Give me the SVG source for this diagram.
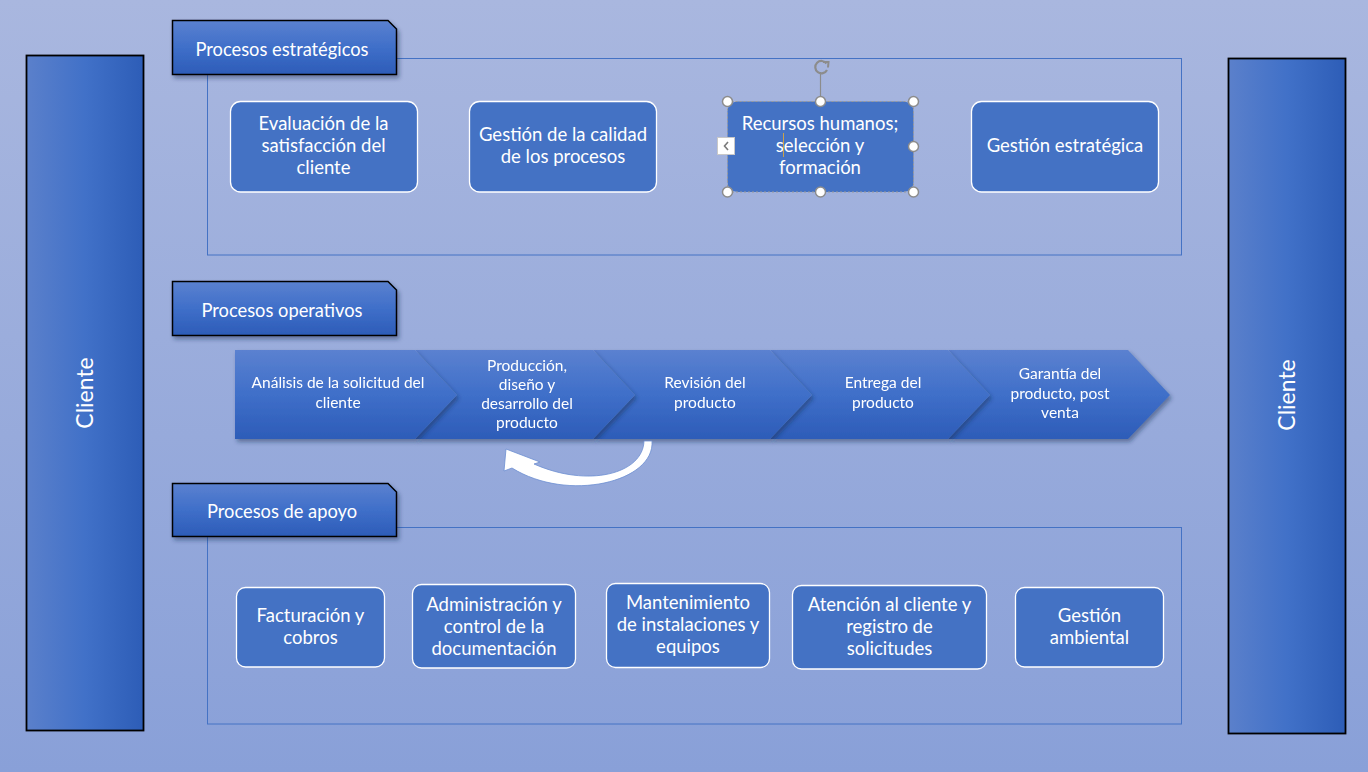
<svg xmlns="http://www.w3.org/2000/svg" width="1368" height="772" viewBox="0 0 1368 772">
<defs>
<linearGradient id="bg" x1="0" y1="0" x2="0" y2="1"><stop offset="0" stop-color="#a9b7df"/><stop offset="1" stop-color="#89a0d8"/></linearGradient>
<linearGradient id="vgrad" x1="0" y1="0" x2="0" y2="1"><stop offset="0" stop-color="#5b81d0"/><stop offset="0.5" stop-color="#3f6fc9"/><stop offset="1" stop-color="#2d5cb8"/></linearGradient>
<linearGradient id="hgrad" x1="0" y1="0" x2="1" y2="0"><stop offset="0" stop-color="#5b80cb"/><stop offset="0.5" stop-color="#4171c8"/><stop offset="1" stop-color="#2d5db7"/></linearGradient>
<filter id="sh" x="-10%" y="-20%" width="130%" height="150%"><feDropShadow dx="2" dy="3" stdDeviation="2" flood-color="#1a2a50" flood-opacity="0.45"/></filter>
</defs>
<style>
.t{font-family:Lato,"Liberation Sans",sans-serif;fill:#ffffff;text-anchor:middle}
.n{font-size:18.5px}
.c{font-size:15.5px}
.tab{font-size:18.3px}
.node{fill:#4472c4;stroke:#ffffff;stroke-width:1.3}
.frame{fill:none;stroke:#4472c4;stroke-width:1}
.tabs{fill:url(#vgrad);stroke:#000;stroke-width:1.5}
.bar{fill:url(#hgrad);stroke:#000;stroke-width:1.8}
.chev{fill:url(#vgrad)}
.hdl{fill:#ffffff;stroke:#8c8c8c;stroke-width:1.5}
</style>
<rect x="0" y="0" width="1368" height="772" fill="url(#bg)"/>

<g id="frames">
<rect class="frame" x="207.5" y="58.5" width="974" height="196.5"/>
<rect class="frame" x="207.5" y="527.5" width="974" height="196.5"/>
</g>

<g id="cliente-left">
<rect class="bar" x="26.5" y="55.5" width="117" height="675"/>
<text class="t" font-size="23" transform="translate(93,393) rotate(-90)">Cliente</text>
</g>
<g id="cliente-right">
<rect class="bar" x="1228.5" y="58.5" width="117" height="675"/>
<text class="t" font-size="23" transform="translate(1295,395) rotate(-90)">Cliente</text>
</g>

<g id="tab-estrategicos">
<path class="tabs" filter="url(#sh)" d="M172.5,20.5 H388 L396.5,29 V74.5 H172.5 Z"/>
<text class="t tab" x="282" y="56">Procesos estratégicos</text>
</g>
<g id="tab-operativos">
<path class="tabs" filter="url(#sh)" d="M172.5,281.5 H388 L396.5,290 V335.5 H172.5 Z"/>
<text class="t tab" x="282" y="317">Procesos operativos</text>
</g>
<g id="tab-apoyo">
<path class="tabs" filter="url(#sh)" d="M172.5,483.5 H388 L396.5,492 V536.5 H172.5 Z"/>
<text class="t tab" x="282" y="518">Procesos de apoyo</text>
</g>

<g id="n-evaluacion">
<rect class="node" x="230.5" y="101.5" width="187" height="90.5" rx="10"/>
<text class="t n" x="323.5" y="130">Evaluación de la</text>
<text class="t n" x="323.5" y="152">satisfacción del</text>
<text class="t n" x="323.5" y="174">cliente</text>
</g>
<g id="n-calidad">
<rect class="node" x="469.5" y="101.5" width="187" height="90.5" rx="10"/>
<text class="t n" x="563" y="141">Gestión de la calidad</text>
<text class="t n" x="563" y="163">de los procesos</text>
</g>
<g id="n-rrhh">
<rect x="727.5" y="101.5" width="186" height="90.5" rx="10" fill="#4472c4"/>
<rect x="727.5" y="101.5" width="186" height="90.5" fill="none" stroke="#9a9a9a" stroke-width="1" stroke-dasharray="2,2"/>
<text class="t n" x="820" y="130">Recursos humanos;</text>
<text class="t n" x="820" y="152">selección y</text>
<text class="t n" x="820" y="174">formación</text>
<line x1="783.5" y1="133" x2="783.5" y2="157" stroke="#c9a24a" stroke-width="1"/>
<line x1="820.5" y1="72" x2="820.5" y2="101" stroke="#8c8c8c" stroke-width="1.2"/>
<path d="M826.5,63.5 A6.2,6.2 0 1 0 827,70" fill="none" stroke="#8c8c8c" stroke-width="2.2"/>
<path d="M823,62 L828.5,62 L828,67.5" fill="none" stroke="#8c8c8c" stroke-width="2"/>
<circle class="hdl" cx="727.5" cy="101.5" r="5"/>
<circle class="hdl" cx="820.5" cy="101.5" r="5"/>
<circle class="hdl" cx="913.5" cy="101.5" r="5"/>
<circle class="hdl" cx="913.5" cy="146.5" r="5"/>
<circle class="hdl" cx="913.5" cy="192" r="5"/>
<circle class="hdl" cx="820.5" cy="192" r="5"/>
<circle class="hdl" cx="727.5" cy="192" r="5"/>
<rect x="717.5" y="137.5" width="17" height="17" fill="#ffffff" stroke="#c8c8c8" stroke-width="1"/>
<path d="M728,142 L724.5,146 L728,150" fill="none" stroke="#7a7a7a" stroke-width="1.6"/>
</g>
<g id="n-estrategica">
<rect class="node" x="971.5" y="101.5" width="187" height="90.5" rx="10"/>
<text class="t n" x="1065" y="152">Gestión estratégica</text>
</g>

<g id="chevrons">
<g id="c5" filter="url(#sh)">
<path class="chev" d="M948,350 H1128 L1170,395 L1128,439 H948 L990,395 Z"/>
<text class="t c" x="1060" y="379">Garantía del</text>
<text class="t c" x="1060" y="399">producto, post</text>
<text class="t c" x="1060" y="418">venta</text>
</g>
<g id="c4" filter="url(#sh)">
<path class="chev" d="M770,350 H948 L990,395 L948,439 H770 L812,395 Z"/>
<text class="t c" x="883" y="388">Entrega del</text>
<text class="t c" x="883" y="408">producto</text>
</g>
<g id="c3" filter="url(#sh)">
<path class="chev" d="M593,350 H770 L812,395 L770,439 H593 L635,395 Z"/>
<text class="t c" x="705" y="388">Revisión del</text>
<text class="t c" x="705" y="408">producto</text>
</g>
<g id="c2" filter="url(#sh)">
<path class="chev" d="M415,350 H593 L635,395 L593,439 H415 L457,395 Z"/>
<text class="t c" x="527" y="371">Producción,</text>
<text class="t c" x="527" y="390">diseño y</text>
<text class="t c" x="527" y="409">desarrollo del</text>
<text class="t c" x="527" y="428">producto</text>
</g>
<g id="c1" filter="url(#sh)">
<path class="chev" d="M235,350 H415 L457,395 L415,439 H235 Z"/>
<text class="t c" x="338" y="388">Análisis de la solicitud del</text>
<text class="t c" x="338" y="408">cliente</text>
</g>
</g>

<g id="connectors">
<path d="M644,441 C643,474 588,488 534,464 L540,462 L506,449 L504,471 L512,468 C568,503 655,482 652,441 Z" fill="#ffffff" stroke="#6d8fd2" stroke-width="0.8" stroke-linejoin="miter"/>
</g>

<g id="n-facturacion">
<rect class="node" x="236.5" y="587.5" width="148" height="79.5" rx="9"/>
<text class="t n" x="310.5" y="622">Facturación y</text>
<text class="t n" x="310.5" y="644">cobros</text>
</g>
<g id="n-administracion">
<rect class="node" x="412.5" y="584.5" width="163" height="83.5" rx="9"/>
<text class="t n" x="494" y="611">Administración y</text>
<text class="t n" x="494" y="633">control de la</text>
<text class="t n" x="494" y="655">documentación</text>
</g>
<g id="n-mantenimiento">
<rect class="node" x="606.5" y="583.5" width="163" height="84" rx="9"/>
<text class="t n" x="688" y="609">Mantenimiento</text>
<text class="t n" x="688" y="631">de instalaciones y</text>
<text class="t n" x="688" y="653">equipos</text>
</g>
<g id="n-atencion">
<rect class="node" x="792.5" y="585.5" width="194" height="83.5" rx="9"/>
<text class="t n" x="889.5" y="611">Atención al cliente y</text>
<text class="t n" x="889.5" y="633">registro de</text>
<text class="t n" x="889.5" y="655">solicitudes</text>
</g>
<g id="n-ambiental">
<rect class="node" x="1015.5" y="587.5" width="148" height="79.5" rx="9"/>
<text class="t n" x="1089.5" y="622">Gestión</text>
<text class="t n" x="1089.5" y="644">ambiental</text>
</g>
</svg>
